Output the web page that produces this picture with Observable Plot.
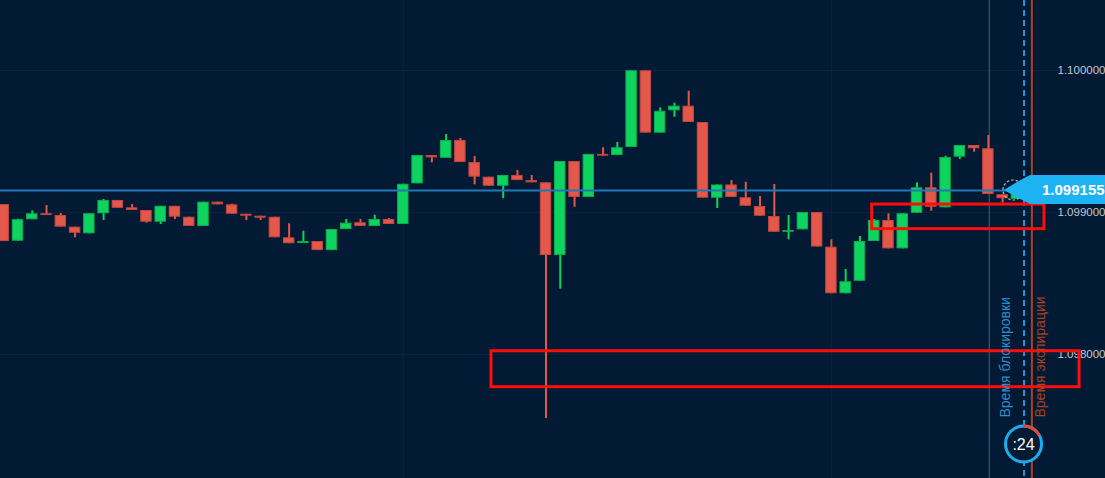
<!DOCTYPE html>
<html><head><meta charset="utf-8">
<script src="https://cdn.jsdelivr.net/npm/d3@7"></script>
<script src="https://cdn.jsdelivr.net/npm/@observablehq/plot@0.6"></script>
<style>html,body{margin:0;padding:0;background:#021a33;overflow:hidden}</style>
</head><body><div id="chart"></div>
<script>
// ---- data (candle index, prices) ----
const opens  = [1.099056,1.098798,1.098949,1.098991,1.098979,1.098897,1.098850,1.098991,1.099085,1.099033,
                1.099014,1.098932,1.099044,1.098967,1.098902,1.099073,1.099054,1.098988,1.098974,1.098967,
                1.098822,1.098782,1.098796,1.098732,1.098880,1.098928,1.098902,1.098951,1.098916,1.099202,
                1.099401,1.099382,1.099507,1.099352,1.099249,1.099185,1.099261,1.099225,1.099209,1.098697,
                1.099359,1.099106,1.099409,1.099401,1.099458,1.099998,1.099559,1.099716,1.099749,1.099634,
                1.099101,1.099194,1.099104,1.099042,1.098972,1.098861,1.098878,1.099000,1.098756,1.098428,
                1.098516,1.098796,1.098944,1.098744,1.098995,1.099174,1.099033,1.099390,1.099472,1.099449,
                1.099125,1.099092];
const highs  = [1.099056,1.098953,1.099012,1.099049,1.098993,1.098897,1.098991,1.099092,1.099085,1.099056,
                1.099014,1.099044,1.099044,1.098967,1.099073,1.099073,1.099059,1.098988,1.098974,1.098967,
                1.098921,1.098868,1.098796,1.098880,1.098951,1.098951,1.098981,1.098958,1.099199,1.099401,
                1.099401,1.099549,1.099521,1.099394,1.099249,1.099261,1.099296,1.099261,1.099209,1.099359,
                1.099359,1.099409,1.099456,1.099493,1.099998,1.099998,1.099737,1.099770,1.099854,1.099634,
                1.099194,1.099225,1.099213,1.099113,1.099197,1.098979,1.099000,1.099000,1.098808,1.098599,
                1.098831,1.098951,1.098991,1.098991,1.099209,1.099277,1.099397,1.099472,1.099472,1.099542,
                1.099125,1.099155];
const lows   = [1.098796,1.098798,1.098949,1.098979,1.098897,1.098822,1.098850,1.098944,1.099030,1.099014,
                1.098925,1.098916,1.098951,1.098902,1.098902,1.099054,1.098988,1.098944,1.098944,1.098822,
                1.098780,1.098782,1.098732,1.098732,1.098880,1.098902,1.098902,1.098916,1.098916,1.099202,
                1.099350,1.099382,1.099352,1.099195,1.099185,1.099097,1.099225,1.099209,1.097549,1.098460,
                1.099037,1.099106,1.099397,1.099401,1.099458,1.099559,1.099559,1.099671,1.099634,1.099101,
                1.099028,1.099106,1.099044,1.098974,1.098861,1.098808,1.098878,1.098757,1.098428,1.098428,
                1.098516,1.098796,1.098744,1.098744,1.098995,1.099009,1.099033,1.099373,1.099425,1.099127,
                1.099066,1.099092];
const closes = [1.098796,1.098949,1.098991,1.098979,1.098897,1.098854,1.098991,1.099085,1.099030,1.099014,
                1.098932,1.099044,1.098967,1.098902,1.099073,1.099054,1.098988,1.098974,1.098960,1.098822,
                1.098780,1.098796,1.098732,1.098880,1.098925,1.098902,1.098951,1.098916,1.099199,1.099401,
                1.099385,1.099507,1.099352,1.099249,1.099185,1.099261,1.099225,1.099209,1.098697,1.099359,
                1.099106,1.099409,1.099397,1.099456,1.099998,1.099559,1.099713,1.099749,1.099634,1.099101,
                1.099194,1.099106,1.099044,1.098974,1.098861,1.098873,1.099000,1.098757,1.098428,1.098512,
                1.098796,1.098944,1.098744,1.098991,1.099174,1.099037,1.099387,1.099472,1.099449,1.099127,
                1.099097,1.099155];

const priceTicks = [1.098, 1.099, 1.100];
const timeGridCandles = [28, 58];
const currentPrice = 1.099155;
const currentPriceLabel = "1.099155";
const nowCandle = 69.06;        // grey vertical line
const lockCandle = 71.5;        // dashed blue line
const expiryCandle = 72.05;     // rust line
const pulseCandle = 70.76;
const lockLabel = "Время блокировки";
const expiryLabel = "Время экспирации";
const timerLabel = ":24";
const timerFraction = 0.17;

const zoneStart = [60.86, 34.18];
const zoneEnd   = [72.93, 75.39];
const zoneLow   = [1.098883, 1.097770];
const zoneHigh  = [1.099056, 1.098023];

// ---- build tables ----
const candles = opens.map((o, i) => ({i, o, h: highs[i], l: lows[i], c: closes[i], up: closes[i] >= o}));
const zones = zoneStart.map((s, k) => ({x1: s, x2: zoneEnd[k], y1: zoneLow[k], y2: zoneHigh[k]}));

const GREEN = "#0fd35f", RED = "#e4574b", BG = "#021a33", GRID = "#0a2541";
const FONT = "'Liberation Sans', Arial, sans-serif";

function overlay(index, scales, values, dimensions) {
  const {x, y} = scales;
  const W = dimensions.width, H = dimensions.height;
  const g = d3.create("svg:g");
  const py = y(currentPrice);
  // pulse dashed circle
  g.append("circle").attr("cx", x(pulseCandle)).attr("cy", py).attr("r", 10)
    .attr("fill", "none").attr("stroke", "#b4bcc8").attr("stroke-width", 1.2).attr("stroke-dasharray", "2.5,2");
  // price tag
  const tip = W - 101, bx = W - 75;
  g.append("path")
    .attr("d", `M${tip},${py} Q${tip + 14},${py - 9} ${bx},${py - 15} L${W},${py - 15} L${W},${py + 14} L${bx},${py + 14} Q${tip + 14},${py + 8} ${tip},${py} Z`)
    .attr("fill", "#1db3f3");
  g.append("text").attr("x", W - 63).attr("y", py).attr("dy", "0.36em").attr("text-anchor", "start")
    .attr("fill", "#ffffff").attr("font-weight", "bold").attr("font-size", 15).attr("font-family", FONT)
    .text(currentPriceLabel);
  // timer
  const cx = x(lockCandle), cy = H - 34;
  g.append("circle").attr("cx", cx).attr("cy", cy).attr("r", 18)
    .attr("fill", BG).attr("stroke", "#19aef0").attr("stroke-width", 3);
  g.append("path").attr("transform", `translate(${cx},${cy})`)
    .attr("d", d3.arc()({innerRadius: 16.5, outerRadius: 19.5, startAngle: 0, endAngle: timerFraction * 2 * Math.PI}))
    .attr("fill", "#e8463a");
  g.append("text").attr("x", cx).attr("y", cy).attr("dy", "0.36em").attr("text-anchor", "middle")
    .attr("fill", "#ffffff").attr("font-size", 16).attr("font-family", FONT).text(timerLabel);
  return g.node();
}

const chart = Plot.plot({
  width: 1105,
  height: 478,
  margin: 0,
  x: {domain: [-0.2264, 77.208], axis: null},
  y: {domain: [1.097127, 1.100493], axis: null},
  style: {background: BG, fontFamily: FONT},
  marks: [
    Plot.gridY(priceTicks, {stroke: GRID, strokeOpacity: 1, strokeWidth: 1}),
    Plot.gridX(timeGridCandles, {stroke: GRID, strokeOpacity: 1, strokeWidth: 1}),
    Plot.ruleX([nowCandle], {stroke: "#4c5d74", strokeWidth: 1}),
    Plot.ruleX([lockCandle], {stroke: "#2b95d8", strokeWidth: 2, strokeDasharray: "6,4"}),
    Plot.ruleX([expiryCandle], {stroke: "#a8431e", strokeWidth: 2}),
    Plot.ruleX(candles, {x: "i", y1: "l", y2: "h", stroke: d => d.up ? GREEN : RED, strokeWidth: 2}),
    Plot.rect(candles, {x1: d => d.i - 0.4, x2: d => d.i + 0.4, y1: "o", y2: "c",
      fill: d => d.up ? GREEN : RED, stroke: d => d.up ? "#0bb050" : "#c4483e", strokeWidth: 1, inset: 0.5}),
    Plot.ruleY([currentPrice], {stroke: "#2277b5", strokeWidth: 2}),
    Plot.text(priceTicks, {y: d => d, text: d => d.toFixed(6), frameAnchor: "right", textAnchor: "start",
      dx: -48, fill: "#c3c8d0", fontSize: 11.5}),
    Plot.rect(zones, {x1: "x1", x2: "x2", y1: "y1", y2: "y2", fill: "none", stroke: "#ff0d0d", strokeWidth: 3}),
    Plot.text([lockLabel], {x: () => lockCandle, text: d => d, frameAnchor: "bottom", rotate: -90,
      textAnchor: "start", dx: -14, dy: -61, fill: "#2e8ccc", fontSize: 14}),
    Plot.text([expiryLabel], {x: () => expiryCandle, text: d => d, frameAnchor: "bottom", rotate: -90,
      textAnchor: "start", dx: 13.5, dy: -61, fill: "#a8431e", fontSize: 14}),
    overlay
  ]
});
document.getElementById("chart").appendChild(chart);
</script>
</body></html>
